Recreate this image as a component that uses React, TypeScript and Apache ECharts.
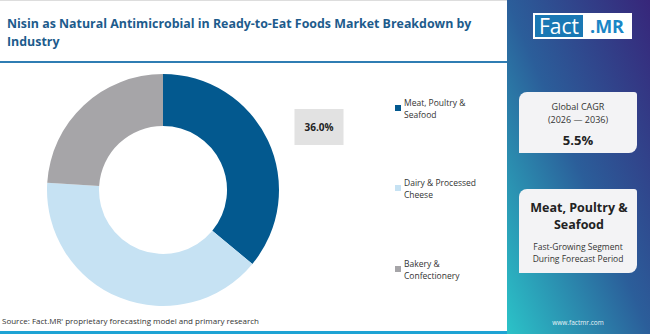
import React, { useEffect, useRef } from "react";
import * as echarts from "echarts";

const categories = ["Meat, Poultry & Seafood", "Dairy & Processed Cheese", "Bakery & Confectionery"];
const legendLabels = ["Meat, Poultry &\nSeafood", "Dairy & Processed\nCheese", "Bakery &\nConfectionery"];
const shares = [36.0, 40.0, 24.0];
const sliceColors = ["#03598f", "#c6e2f3", "#a6a5a8"];
const titleText = "Nisin as Natural Antimicrobial in Ready-to-Eat Foods Market Breakdown by\nIndustry";
const cagrLines = ["Global CAGR", "(2026 \u2014 2036)"];
const cagrValue = "5.5%";
const segmentName = ["Meat, Poultry &", "Seafood"];
const segmentNote = ["Fast-Growing Segment", "During Forecast Period"];
const sourceText = "Source: Fact.MR' proprietary forecasting model and primary research";
const siteText = "www.factmr.com";

const FONT = "'Open Sans', sans-serif";

export default function App() {
  const ref = useRef<HTMLDivElement>(null);
  useEffect(() => {
    document.body.style.margin = "0";
    const chart = echarts.init(ref.current!, null, { renderer: "svg" });
    const legendTops = [90, 170, 251];
    const option: any = {
      animation: false,
      backgroundColor: "#ffffff",
      title: {
        text: titleText,
        left: 7,
        top: 14,
        padding: 0,
        textStyle: { fontFamily: FONT, fontSize: 12.4, fontWeight: "bold", color: "#1d5b8c", lineHeight: 18 },
      },
      legend: categories.map((c, i) => ({
        data: [c],
        left: 395,
        top: legendTops[i],
        padding: 0,
        orient: "vertical",
        itemWidth: 6,
        itemHeight: 6,
        icon: "rect",
        selectedMode: false,
        formatter: () => legendLabels[i],
        textStyle: { fontFamily: FONT, fontSize: 8.5, color: "#333", lineHeight: 12, padding: [12, 0, 0, -2] },
      })),
      graphic: [
        { type: "rect", shape: { x: 0, y: 0, width: 650, height: 1 }, style: { fill: "#dddddd" } },
        { type: "rect", shape: { x: 0, y: 61, width: 507, height: 2 }, style: { fill: "#2f7db3" } },
        { type: "rect", shape: { x: 0, y: 331, width: 507, height: 3 }, style: { fill: "#1ea3d4" } },
        {
          type: "rect",
          shape: { x: 507, y: 0, width: 143, height: 334 },
          style: {
            fill: new echarts.graphic.LinearGradient(1, 0, 0, 1, [
              { offset: 0, color: "#37267a" },
              { offset: 0.5, color: "#2b5e9a" },
              { offset: 1, color: "#2bc3c8" },
            ]),
          },
        },
        // logo
        { type: "rect", shape: { x: 533, y: 13, width: 99, height: 26 }, style: { fill: "#ffffff" } },
        { type: "rect", shape: { x: 535, y: 15, width: 48, height: 22 }, style: { fill: "#1a78b4" } },
        { type: "text", style: { x: 559, y: 26, text: "Fact", fill: "#ffffff", font: `21px ${FONT}`, align: "center", verticalAlign: "middle" } },
        { type: "text", style: { x: 607, y: 26, text: ".MR", fill: "#1a86c6", font: `bold 18px ${FONT}`, align: "center", verticalAlign: "middle" } },
        // CAGR box
        { type: "rect", shape: { x: 519, y: 92, width: 118, height: 61, r: [8, 3, 8, 0] }, style: { fill: "#f3f3f5" } },
        { type: "text", style: { x: 578, y: 106, text: cagrLines[0], fill: "#333", font: `9px ${FONT}`, align: "center", verticalAlign: "middle" } },
        { type: "text", style: { x: 578, y: 119, text: cagrLines[1], fill: "#333", font: `9px ${FONT}`, align: "center", verticalAlign: "middle" } },
        { type: "text", style: { x: 578, y: 140, text: cagrValue, fill: "#222", font: `bold 13px ${FONT}`, align: "center", verticalAlign: "middle" } },
        // segment box
        { type: "rect", shape: { x: 519, y: 189, width: 118, height: 84, r: [8, 3, 8, 0] }, style: { fill: "#f3f3f5" } },
        { type: "text", style: { x: 579, y: 207, text: segmentName[0], fill: "#222", font: `bold 12.5px ${FONT}`, align: "center", verticalAlign: "middle" } },
        { type: "text", style: { x: 579, y: 224, text: segmentName[1], fill: "#222", font: `bold 12.5px ${FONT}`, align: "center", verticalAlign: "middle" } },
        { type: "text", style: { x: 578, y: 246, text: segmentNote[0], fill: "#333", font: `8.5px ${FONT}`, align: "center", verticalAlign: "middle" } },
        { type: "text", style: { x: 578, y: 258, text: segmentNote[1], fill: "#333", font: `8.5px ${FONT}`, align: "center", verticalAlign: "middle" } },
        // footer
        { type: "text", style: { x: 2, y: 320, text: sourceText, fill: "#333", font: `8px ${FONT}`, align: "left", verticalAlign: "middle" } },
        { type: "text", style: { x: 578, y: 322, text: siteText, fill: "#e8f4f8", font: `6.5px ${FONT}`, align: "center", verticalAlign: "middle" } },
      ],
      series: [
        {
          type: "pie",
          center: [163, 190],
          radius: [64, 116],
          startAngle: 90,
          clockwise: true,
          silent: true,
          labelLine: { show: false },
          data: categories.map((c, i) => ({
            name: c,
            value: shares[i],
            itemStyle: { color: sliceColors[i] },
            label: {
              show: i === 0,
              formatter: (p: any) => p.value.toFixed(1) + "%",
              fontFamily: FONT,
              fontSize: 10,
              fontWeight: "bold",
              color: "#222",
              backgroundColor: "#e2e2e2",
              padding: [13, 10],
            },
          })),
          labelLayout: (p: any) => (p.dataIndex === 0 ? { x: 319, y: 127, align: "center", verticalAlign: "middle" } : {}),
        },
      ],
    };
    chart.setOption(option);
    return () => chart.dispose();
  }, []);
  return <div ref={ref} style={{ width: 650, height: 334 }} />;
}
